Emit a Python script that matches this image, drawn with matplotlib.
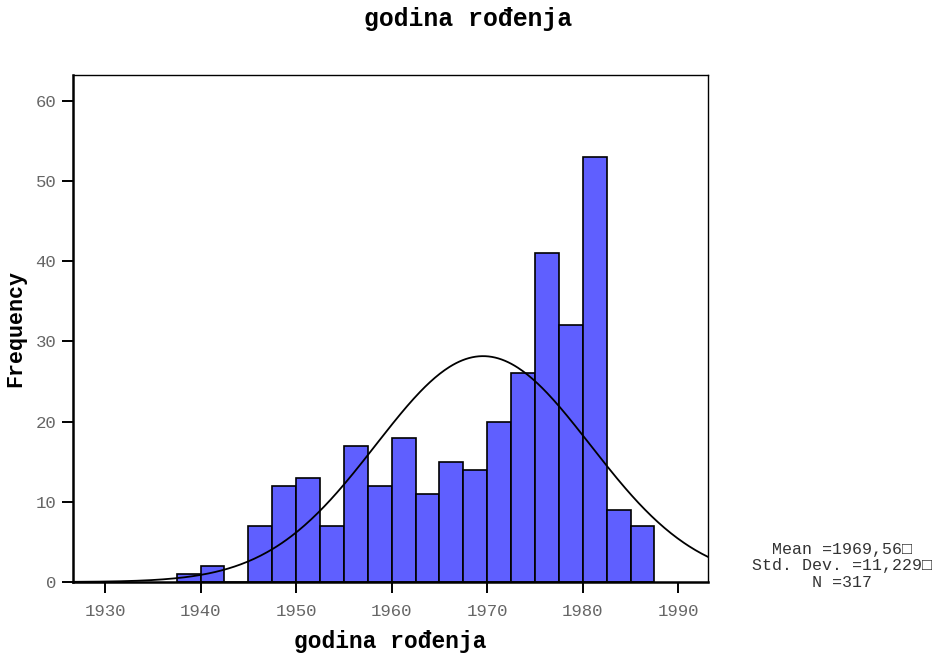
import matplotlib
matplotlib.use('Agg')
import matplotlib.pyplot as plt
import numpy as np

# histogram godina rodjenja, sirina binova 2.5 godine
bin_edges = [1937.5, 1940, 1942.5, 1945, 1947.5, 1950, 1952.5, 1955, 1957.5, 1960,
             1962.5, 1965, 1967.5, 1970, 1972.5, 1975, 1977.5, 1980, 1982.5, 1985, 1987.5]
counts = [1, 2, 0, 7, 12, 13, 7, 17, 12, 18, 11, 15, 14, 20, 26, 41, 32, 53, 9, 7]

mean = 1969.56
std = 11.229
n = 317
bin_width = 2.5

x_ticks = [1930, 1940, 1950, 1960, 1970, 1980, 1990]
y_ticks = [0, 10, 20, 30, 40, 50, 60]

mono = ['Liberation Mono', 'DejaVu Sans Mono']
plt.rcParams['font.family'] = mono

fig = plt.figure(figsize=(9.37, 6.54), dpi=100)
ax = fig.add_axes([0.0779, 0.1101, 0.6777, 0.7752])

lefts = np.array(bin_edges[:-1])
widths = np.diff(bin_edges)
ax.bar(lefts, counts, width=widths, align='edge', color='#5f5fff',
       edgecolor='black', linewidth=1.2, zorder=2)

# normalna kriva
xx = np.linspace(1926, 1994, 400)
yy = n * bin_width * np.exp(-0.5 * ((xx - mean) / std) ** 2) / (std * np.sqrt(2 * np.pi))
ax.plot(xx, yy, color='black', linewidth=1.3, zorder=3)

ax.set_xlim(1926.65, 1993.1)
ax.set_ylim(0, 63.2)
ax.set_xticks(x_ticks)
ax.set_yticks(y_ticks)
ax.tick_params(axis='both', direction='out', length=8, width=1.4, colors='black',
               labelcolor='#666666', labelsize=12.5)
ax.tick_params(axis='x', pad=8)
ax.tick_params(axis='y', pad=4)
for s in ['left', 'bottom']:
    ax.spines[s].set_linewidth(1.8)
for s in ['top', 'right']:
    ax.spines[s].set_linewidth(1.0)

ax.set_xlabel('godina rođenja', fontsize=16.5, fontweight='bold', labelpad=8)
ax.set_ylabel('Frequency', fontsize=15.7, fontweight='bold', labelpad=7)
fig.suptitle('godina rođenja', fontsize=17.8, fontweight='bold', y=0.99)

fig.text(0.8986, 0.1346, 'Mean =1969,56\u25a1\nStd. Dev. =11,229\u25a1\nN =317',
         ha='center', va='center', fontsize=12, linespacing=1.15, color='#333333')

fig.savefig('out.png', dpi=100)
